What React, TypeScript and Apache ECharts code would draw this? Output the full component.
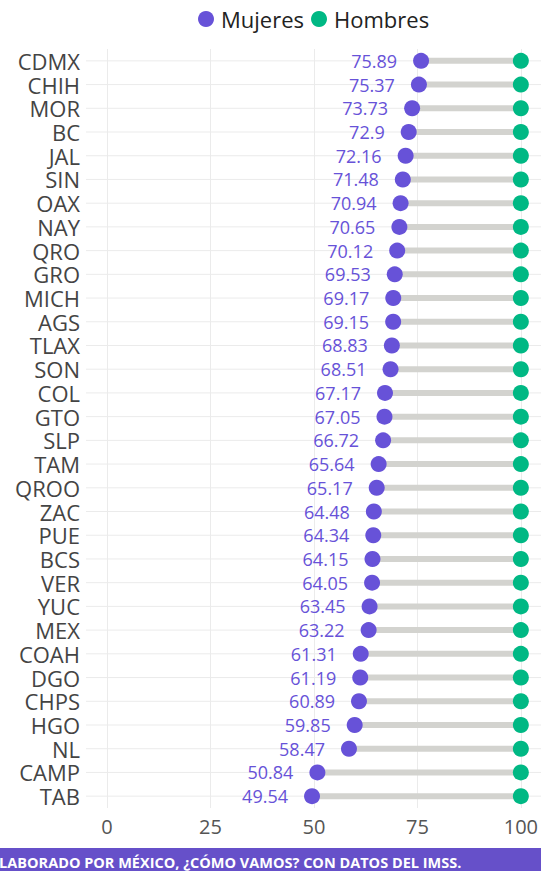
import React, { useEffect, useRef } from "react";
import * as echarts from "echarts";

const estados = ["CDMX","CHIH","MOR","BC","JAL","SIN","OAX","NAY","QRO","GRO","MICH","AGS","TLAX","SON","COL","GTO","SLP","TAM","QROO","ZAC","PUE","BCS","VER","YUC","MEX","COAH","DGO","CHPS","HGO","NL","CAMP","TAB"];
const mujeres = [75.89,75.37,73.73,72.9,72.16,71.48,70.94,70.65,70.12,69.53,69.17,69.15,68.83,68.51,67.17,67.05,66.72,65.64,65.17,64.48,64.34,64.15,64.05,63.45,63.22,61.31,61.19,60.89,59.85,58.47,50.84,49.54];
const hombres = [100,100,100,100,100,100,100,100,100,100,100,100,100,100,100,100,100,100,100,100,100,100,100,100,100,100,100,100,100,100,100,100];
const xTicks = [0, 25, 50, 75, 100];
const footerText = "ELABORADO POR MÉXICO, ¿CÓMO VAMOS? CON DATOS DEL IMSS.";

const PURPLE = "#6752d8";
const GREEN = "#00b884";
const FONT = "'Open Sans', sans-serif";

export default function App() {
  const ref = useRef<HTMLDivElement>(null);
  useEffect(() => {
    if (!ref.current) return;
    const chart = echarts.init(ref.current, null, { renderer: "svg" });
    chart.setOption({
      animation: false,
      backgroundColor: "#ffffff",
      textStyle: { fontFamily: FONT },
      legend: {
        data: ["Mujeres", "Hombres"],
        icon: "circle",
        itemWidth: 16,
        itemHeight: 16,
        itemGap: 7,
        left: 193,
        top: 3,
        textStyle: { fontSize: 22, color: "#222", fontFamily: FONT, padding: [0, 0, 0, 2] },
      },
      grid: { left: 107, right: 19, top: 49, bottom: 63, containLabel: false },
      xAxis: {
        type: "value",
        min: 0,
        max: 100,
        interval: 25,
        axisLine: { show: false },
        axisTick: { show: false },
        axisLabel: { fontSize: 20, color: "#555", margin: 8, fontFamily: FONT,
          formatter: (v: number) => (xTicks.includes(v) ? String(v) : "") },
        splitLine: { show: true, lineStyle: { color: "#ebebeb", width: 1 } },
      },
      yAxis: {
        type: "category",
        data: estados,
        inverse: true,
        axisLine: { show: false },
        axisTick: { show: false },
        splitLine: { show: false },
        axisLabel: { fontSize: 22, lineHeight: 22, color: "#444", margin: 27, fontFamily: FONT, interval: 0 },
      },
      series: [
        {
          type: "custom",
          name: "grid-h",
          silent: true,
          z: 0,
          data: estados.map((_, i) => [0, i]),
          renderItem: (params: any, api: any) => {
            const y = api.coord([0, api.value(1)])[1];
            return {
              type: "line",
              shape: { x1: 86, y1: y, x2: 541, y2: y },
              style: { stroke: "#ebebeb", lineWidth: 1 },
            };
          },
        },
        {
          type: "custom",
          name: "barra",
          silent: true,
          z: 1,
          data: mujeres.map((m, i) => [m, hombres[i], i]),
          renderItem: (params: any, api: any) => {
            const p1 = api.coord([api.value(0), api.value(2)]);
            const p2 = api.coord([api.value(1), api.value(2)]);
            return {
              type: "line",
              shape: { x1: p1[0], y1: p1[1], x2: p2[0], y2: p2[1] },
              style: { stroke: "#d3d3cf", lineWidth: 6 },
            };
          },
        },
        {
          type: "scatter",
          name: "Hombres",
          z: 3,
          symbolSize: 16,
          itemStyle: { color: GREEN, opacity: 1 },
          data: hombres.map((h, i) => [h, estados[i]]),
        },
        {
          type: "scatter",
          name: "Mujeres",
          z: 4,
          symbolSize: 16,
          itemStyle: { color: PURPLE, opacity: 1 },
          label: {
            show: true,
            position: "left",
            distance: 16,
            fontSize: 18,
            color: PURPLE,
            fontFamily: FONT,
            formatter: (p: any) => String(p.value[0]),
          },
          data: mujeres.map((m, i) => [m, estados[i]]),
        },
      ],
      graphic: [
        {
          type: "rect",
          left: 0,
          top: 848,
          shape: { width: 541, height: 23 },
          style: { fill: "#6650c9" },
          silent: true,
        },
        {
          type: "text",
          x: -9,
          y: 862,
          style: {
            text: footerText,
            fill: "#ffffff",
            font: "bold 14.5px 'Open Sans', sans-serif",
            verticalAlign: "middle",
            textAlign: "left",
          },
          silent: true,
        },
      ],
    });
    return () => chart.dispose();
  }, []);
  return (
    <div
      ref={ref}
      style={{ position: "fixed", left: 0, top: 0, width: 541, height: 871 }}
    />
  );
}
